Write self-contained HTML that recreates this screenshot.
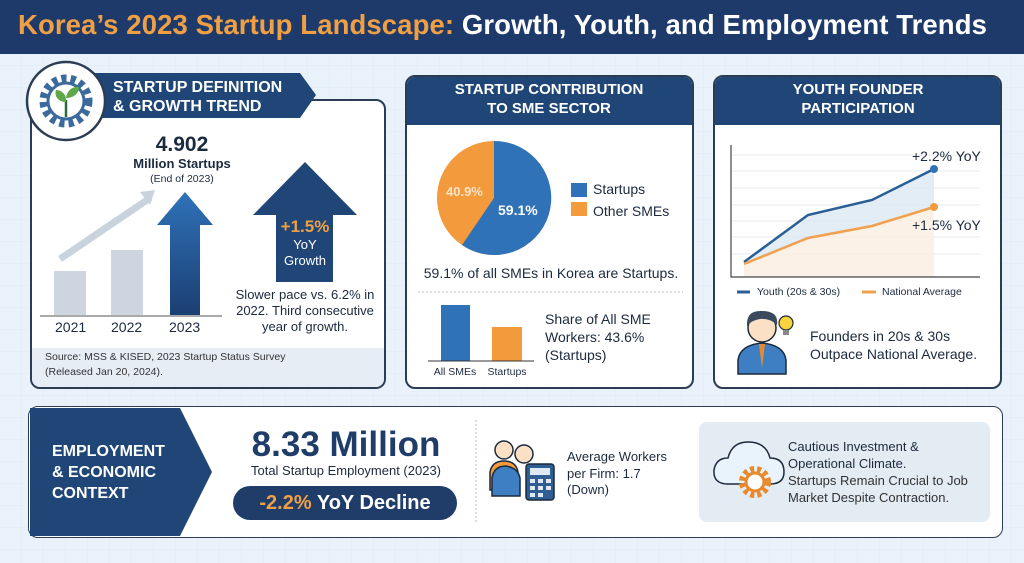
<!DOCTYPE html>
<html><head><meta charset="utf-8"><style>
*{margin:0;padding:0;box-sizing:border-box}
body{width:1024px;height:563px;overflow:hidden;font-family:"Liberation Sans",sans-serif;background:#e9f2fb;position:relative;color:#1c2a3e}
.a{position:absolute;white-space:nowrap}
.box{position:absolute;background:#fff;border:2px solid #2b3d55;border-radius:10px;overflow:hidden}
.c{text-align:center;transform:translateX(-50%)}
b{font-weight:bold}
</style></head><body>
<svg class="a" style="left:0;top:0" width="1024" height="563">
<defs><pattern id="g" width="22" height="22" patternUnits="userSpaceOnUse"><path d="M22 0V22H0" fill="none" stroke="#d6e4f2" stroke-width="1"/></pattern></defs>
<rect width="1024" height="563" fill="url(#g)" opacity=".6"/>
<rect width="1024" height="54" fill="#1d3a6b"/>
</svg>
<div class="a" style="left:18px;top:9px;font-size:27.5px;font-weight:bold;color:#fff;letter-spacing:0.1px"><span style="color:#f0a044">Korea’s 2023 Startup Landscape:</span> Growth, Youth, and Employment Trends</div>

<!-- Panel 1 -->
<div class="box" style="left:30px;top:99px;width:356px;height:290px">
<div class="a" style="left:0;top:247px;width:356px;height:43px;background:#e6edf5"></div>
</div>
<svg class="a" style="left:0;top:60px" width="400" height="340">
<path d="M75 13H300L316 35L300 58H75Z" fill="#1f4677"/>
<circle cx="66" cy="41" r="39" fill="#fff" stroke="#2b3d55" stroke-width="2.5"/>
<circle cx="66" cy="41" r="22" fill="none" stroke="#3d6a9c" stroke-width="9" stroke-dasharray="5 4"/>
<circle cx="66" cy="41" r="18" fill="#fff" stroke="#3d6a9c" stroke-width="3"/>
<path d="M66 57V40" stroke="#2d6b3a" stroke-width="2.5"/>
<path d="M66 42C58 42 54 36 56 30C62 30 67 35 66 42Z" fill="#5fa84a"/>
<path d="M66 38C67 30 73 26 79 27C79 34 73 38 66 38Z" fill="#5fa84a"/>
<rect x="54" y="211" width="32" height="44" fill="#cdd6e0"/>
<rect x="111" y="190" width="32" height="65" fill="#cdd6e0"/>
<path d="M60 199Q110 165 150 138" stroke="#c9d3de" stroke-width="7" fill="none"/>
<path d="M140 132L155 130L150 145Z" fill="#c9d3de"/>
<defs><linearGradient id="ar" x1="0" y1="0" x2="0" y2="1"><stop offset="0" stop-color="#2f72b8"/><stop offset="1" stop-color="#1b3f73"/></linearGradient></defs>
<path d="M185 132L213 165H200V255H170V165H157Z" fill="url(#ar)"/>
<path d="M40 256H222" stroke="#555" stroke-width="1"/>
<path d="M305 102L357 155H333V222H276V155H253Z" fill="#1f4677"/>
</svg>
<div class="a" style="left:113px;top:78px;font-size:16px;font-weight:bold;color:#fff;line-height:19px">STARTUP DEFINITION<br>&amp; GROWTH TREND</div>
<div class="a c" style="left:182px;top:133px;font-size:21px;font-weight:bold">4.902</div>
<div class="a c" style="left:182px;top:156px;font-size:13px;font-weight:bold">Million Startups</div>
<div class="a c" style="left:182px;top:173px;font-size:10.5px">(End of 2023)</div>
<div class="a" style="left:55px;top:319px;font-size:14px">2021</div>
<div class="a" style="left:111px;top:319px;font-size:14px">2022</div>
<div class="a" style="left:169px;top:319px;font-size:14px">2023</div>
<div class="a c" style="left:305px;top:217px;font-size:17px;font-weight:bold;color:#f0a044">+1.5%</div>
<div class="a c" style="left:305px;top:237px;font-size:13px;color:#fff;line-height:16px">YoY<br>Growth</div>
<div class="a c" style="left:305px;top:287px;font-size:13px;line-height:16px">Slower pace vs. 6.2% in<br>2022. Third consecutive<br>year of growth.</div>
<div class="a" style="left:45px;top:350px;font-size:10.5px;line-height:15px;color:#333">Source: MSS &amp; KISED, 2023 Startup Status Survey<br>(Released Jan 20, 2024).</div>

<!-- Panel 2 -->
<div class="box" style="left:405px;top:75px;width:289px;height:314px">
<div class="a" style="left:0;top:0;width:289px;height:48px;background:#1f4677"></div>
</div>
<div class="a c" style="left:549px;top:80px;font-size:15px;font-weight:bold;color:#fff;line-height:19px">STARTUP CONTRIBUTION<br>TO SME SECTOR</div>
<svg class="a" style="left:400px;top:120px" width="300" height="270">
<circle cx="94" cy="78" r="57" fill="#f29a3c"/>
<path d="M94 78V21A57 57 0 1 1 62 125Z" fill="#2f72b8"/>
<rect x="171" y="63" width="16" height="14" fill="#2f72b8"/>
<rect x="171" y="82" width="16" height="14" fill="#f29a3c"/>
<path d="M18 172H283" stroke="#bbb" stroke-dasharray="2 2"/>
<rect x="41" y="185" width="29" height="56" fill="#2f72b8"/>
<rect x="92" y="207" width="30" height="34" fill="#f29a3c"/>
<path d="M28 241H134" stroke="#333"/>
</svg>
<div class="a" style="left:446px;top:184px;font-size:13px;font-weight:bold;color:#fde3c4">40.9%</div>
<div class="a" style="left:498px;top:202px;font-size:14px;font-weight:bold;color:#fff">59.1%</div>
<div class="a" style="left:593px;top:181px;font-size:14px">Startups</div>
<div class="a" style="left:593px;top:203px;font-size:14px">Other SMEs</div>
<div class="a c" style="left:551px;top:265px;font-size:14px">59.1% of all SMEs in Korea are Startups.</div>
<div class="a c" style="left:455px;top:366px;font-size:10.5px">All SMEs</div>
<div class="a c" style="left:507px;top:366px;font-size:10.5px">Startups</div>
<div class="a" style="left:545px;top:310px;font-size:14px;line-height:18px">Share of All SME<br>Workers: 43.6%<br>(Startups)</div>

<!-- Panel 3 -->
<div class="box" style="left:713px;top:75px;width:289px;height:314px">
<div class="a" style="left:0;top:0;width:289px;height:48px;background:#1f4677"></div>
</div>
<div class="a c" style="left:858px;top:80px;font-size:15px;font-weight:bold;color:#fff;line-height:19px">YOUTH FOUNDER<br>PARTICIPATION</div>
<svg class="a" style="left:700px;top:130px" width="310" height="260">
<g stroke="#e6e9ee"><path d="M32 25H280M32 41H280M32 58H280M32 75H280M32 91H280M32 107H280M32 124H280"/></g>
<path d="M44 132L108 85L172 70L234 39V77L172 96L108 108L44 134Z" fill="#dce8f4" opacity=".8"/>
<path d="M44 134L108 108L172 96L234 77V147H44Z" fill="#fbeee0" opacity=".8"/>
<path d="M31 15V147H280" stroke="#444" fill="none" stroke-width="1.2"/>
<path d="M44 132L108 85L172 70L234 39" stroke="#2a5f96" stroke-width="2.5" fill="none"/>
<path d="M44 134L108 108L172 96L234 77" stroke="#f0a04e" stroke-width="2.5" fill="none"/>
<circle cx="234" cy="39" r="4" fill="#2f72b8"/><circle cx="234" cy="77" r="4" fill="#f29a3c"/>
<path d="M37 162H50" stroke="#2a5f96" stroke-width="3"/>
<path d="M162 162H176" stroke="#f0a04e" stroke-width="3"/>
<path d="M38 244V230Q40 215 62 213Q84 215 86 230V244Z" fill="#3d7fc2" stroke="#1c2a3e" stroke-width="1.5"/>
<path d="M59 214L62 238L65 214Z" fill="#e88a2c"/>
<circle cx="62" cy="198" r="14" fill="#fbe0c6" stroke="#1c2a3e" stroke-width="1.5"/>
<path d="M47 196Q46 180 62 181Q79 181 77 195Q70 188 60 189Q52 190 47 196Z" fill="#3b4a5c"/>
<circle cx="86" cy="193" r="7" fill="#f8d33e" stroke="#1c2a3e" stroke-width="1.2"/>
<path d="M83 200H89V205H83Z" fill="#888"/>
</svg>
<div class="a" style="left:912px;top:148px;font-size:14px">+2.2% YoY</div>
<div class="a" style="left:912px;top:217px;font-size:14px">+1.5% YoY</div>
<div class="a" style="left:757px;top:286px;font-size:10.5px">Youth (20s &amp; 30s)</div>
<div class="a" style="left:882px;top:286px;font-size:10.5px">National Average</div>
<div class="a" style="left:810px;top:327px;font-size:14px;line-height:18px">Founders in 20s &amp; 30s<br>Outpace National Average.</div>

<!-- Bottom -->
<div class="box" style="left:28px;top:406px;width:975px;height:132px;border-width:1.5px"></div>
<svg class="a" style="left:28px;top:406px" width="980" height="135">
<path d="M2 2H152L184 66L152 130H2Z" fill="#1f4677"/>
<path d="M448 14V116" stroke="#bbb" stroke-dasharray="2 2"/>
<rect x="671" y="16" width="291" height="100" rx="8" fill="#e3ebf3"/>
<circle cx="476" cy="44" r="9" fill="#fbe0c6" stroke="#1c2a3e" stroke-width="1.5"/>
<path d="M462 84V66Q464 55 476 55Q488 55 490 66V84Z" fill="#f29a3c" stroke="#1c2a3e" stroke-width="1.5"/>
<circle cx="496" cy="48" r="9" fill="#fbe0c6" stroke="#1c2a3e" stroke-width="1.5"/>
<path d="M464 90V72Q466 60 478 60Q490 62 492 72V90Z" fill="#3d7fc2" stroke="#1c2a3e" stroke-width="1.5"/>
<rect x="498" y="58" width="28" height="36" rx="3" fill="#2f5f92" stroke="#1c2a3e" stroke-width="1.5"/>
<rect x="502" y="62" width="20" height="7" fill="#dfe9f3"/>
<g fill="#dfe9f3"><rect x="502" y="73" width="5" height="4"/><rect x="510" y="73" width="5" height="4"/><rect x="518" y="73" width="5" height="4"/><rect x="502" y="80" width="5" height="4"/><rect x="510" y="80" width="5" height="4"/><rect x="518" y="80" width="5" height="4"/><rect x="502" y="87" width="5" height="4"/><rect x="510" y="87" width="5" height="4"/></g>
<path d="M700 78Q685 78 686 64Q688 52 700 52Q704 36 720 36Q738 36 742 52Q756 52 756 66Q756 78 742 78Z" fill="#e9f3fb" stroke="#1c2a3e" stroke-width="1.5"/>
<circle cx="727" cy="76" r="13" fill="none" stroke="#e88a2c" stroke-width="6" stroke-dasharray="4 3"/>
<circle cx="727" cy="76" r="9" fill="#fff" stroke="#e88a2c" stroke-width="3"/>
</svg>
<div class="a" style="left:52px;top:441px;font-size:16px;font-weight:bold;color:#fff;line-height:21px">EMPLOYMENT<br>&amp; ECONOMIC<br>CONTEXT</div>
<div class="a c" style="left:346px;top:425px;font-size:35px;font-weight:bold;color:#1f3d68">8.33 Million</div>
<div class="a c" style="left:346px;top:463px;font-size:13px">Total Startup Employment (2023)</div>
<div class="a" style="left:233px;top:486px;width:224px;height:34px;border-radius:17px;background:#1f3d68;text-align:center;font-size:20px;font-weight:bold;color:#fff;line-height:34px"><span style="color:#f0a044">-2.2%</span> YoY Decline</div>
<div class="a" style="left:567px;top:449px;font-size:13px;line-height:16.5px">Average Workers<br>per Firm: 1.7<br>(Down)</div>
<div class="a" style="left:788px;top:438px;font-size:13px;line-height:17px;color:#1c2a3e">Cautious Investment &amp;<br>Operational Climate.<br><span style="color:#333">Startups Remain Crucial to Job<br>Market Despite Contraction.</span></div>
</body></html>
